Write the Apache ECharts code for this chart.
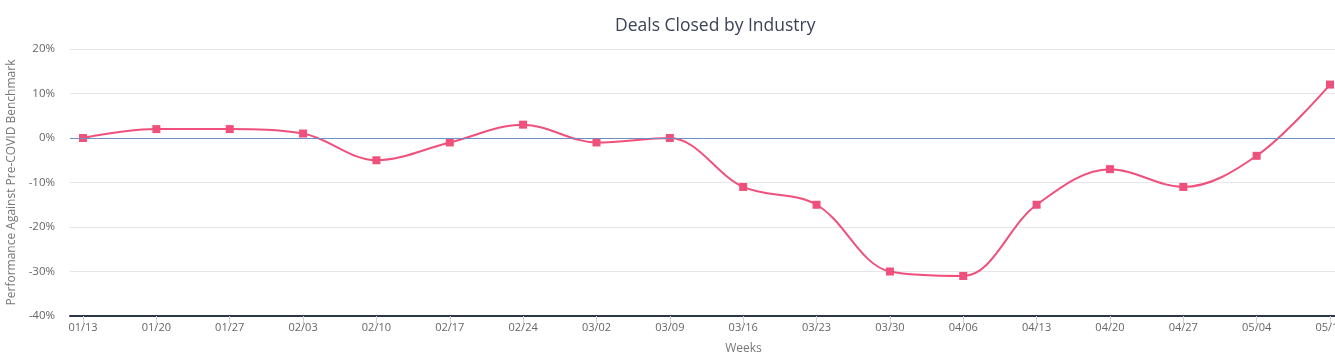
<!DOCTYPE html>
<html><head><meta charset="utf-8">
<script src="https://cdn.jsdelivr.net/npm/echarts@6/dist/echarts.min.js"></script>
<style>html,body{margin:0;padding:0;background:#fff}#c{width:1335px;height:360px}</style>
</head><body><div id="c"></div>
<script>
const weeks = ['01/13','01/20','01/27','02/03','02/10','02/17','02/24','03/02','03/09','03/16','03/23','03/30','04/06','04/13','04/20','04/27','05/04','05/11'];
const performance = [0, 2, 2, 1, -5, -1, 3, -1, 0, -11, -15, -30, -31, -15, -7, -11, -4, 12];
const yTicks = [-40, -30, -20, -10, 0, 10, 20];

const idx = weeks.map((_, i) => i);
const chart = echarts.init(document.getElementById('c'));
chart.setOption({
  animation: false,
  textStyle: { fontFamily: 'Open Sans' },
  title: {
    text: 'Deals Closed by Industry', left: 610, top: 12,
    textStyle: { fontFamily: 'Open Sans', fontSize: 17.5, fontWeight: 'normal', color: '#3c4257' }
  },
  grid: { left: 70, right: 0, top: 49, bottom: 44, outerBoundsMode: 'none', containLabel: false },
  xAxis: {
    type: 'value', min: -0.1774, max: 17.068,
    name: 'Weeks', nameLocation: 'middle', nameGap: 27,
    nameTextStyle: { color: '#777', fontSize: 12, padding: [0, 0, 0, 82] },
    axisLine: { show: true, onZero: false, lineStyle: { color: '#2b3648', width: 2 } },
    axisTick: { show: true, customValues: idx, length: 8, lineStyle: { color: '#c8d4e6' } },
    axisLabel: { customValues: idx, color: '#666', fontSize: 11, margin: 6, hideOverlap: false,
      formatter: v => weeks[Math.round(v)] },
    splitLine: { show: false }
  },
  yAxis: {
    type: 'value', min: yTicks[0], max: yTicks[yTicks.length - 1], interval: 10,
    name: 'Performance Against Pre-COVID Benchmark', nameLocation: 'middle', nameGap: 50,
    nameTextStyle: { color: '#777', fontSize: 12 },
    axisLine: { show: false }, axisTick: { show: false },
    axisLabel: { color: '#666', fontSize: 11.5, margin: 15, formatter: v => v + '%' },
    splitLine: { lineStyle: { color: '#e6e6e6' } }
  },
  series: [{
    type: 'line', smooth: 0.35,
    data: performance.map((v, i) => [i, v]),
    symbol: 'rect', symbolSize: 8,
    lineStyle: { color: '#f0507c', width: 2 },
    itemStyle: { color: '#f0507c' },
    markLine: {
      silent: true, symbol: 'none', label: { show: false },
      lineStyle: { color: '#6f8fbd', width: 1, type: 'solid' },
      data: [{ yAxis: 0 }]
    },
    z: 3
  }]
});
</script></body></html>
